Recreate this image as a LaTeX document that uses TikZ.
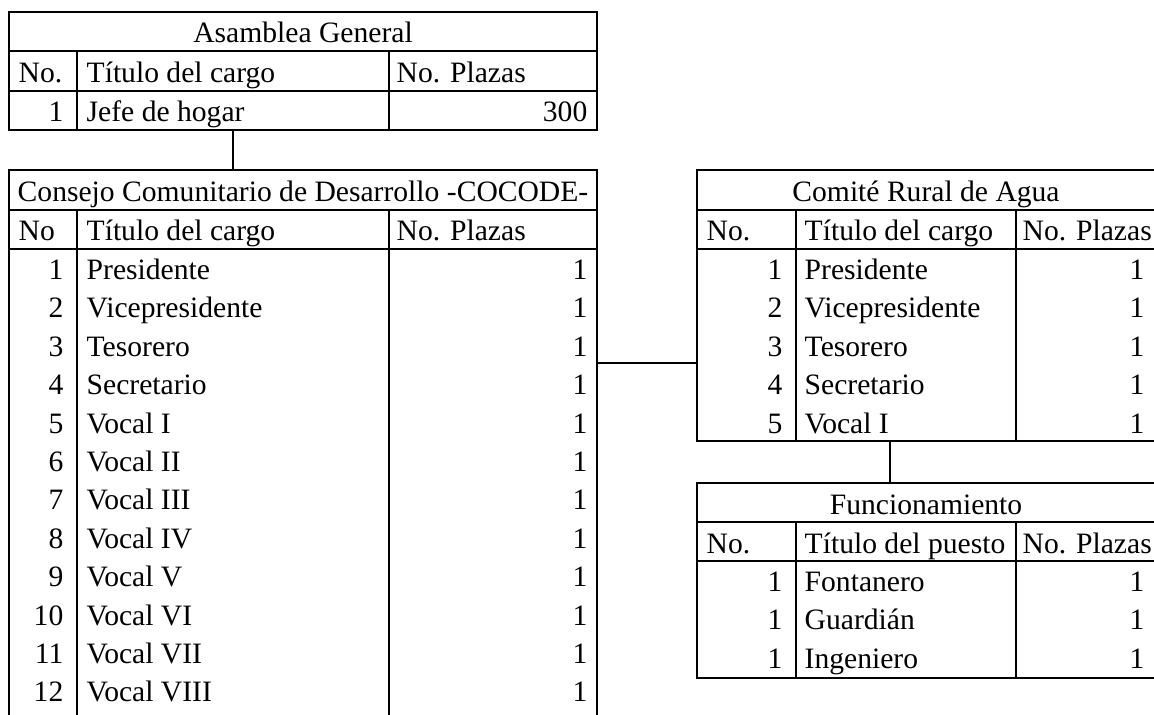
\documentclass[tikz,border=0pt]{standalone}
\usepackage{fontspec}
\setmainfont{Liberation Serif}

\tikzset{
  every node/.style={font=\fontsize{14.8}{17}\selectfont},
  frame/.style={draw, rectangle, inner sep=0pt, outer sep=0pt, anchor=north west},
  txt/.style={inner sep=0pt, anchor=base west},
  num/.style={inner sep=0pt, anchor=base east},
  ttl/.style={inner sep=0pt, anchor=base}
}

\begin{document}
\begin{tikzpicture}[x=0.5pt,y=-0.5pt,line width=0.7pt]
  \useasboundingbox (0,0) rectangle (1154,715);
  \clip (0,0) rectangle (1154,715);

  % Asamblea General
  \node[frame, minimum width=294pt, minimum height=59pt] (asamblea) at (9,12) {};
  \draw (9,51) -- (597,51) (9,91) -- (597,91);
  \draw (77,51) -- (77,130) (389,51) -- (389,130);
  \node[ttl] (ag-title) at (303,43)  {Asamblea General};
  \node[txt] (ag-no)    at (18,83)   {No.};
  \node[txt] (ag-tit)   at (86,83)   {Título del cargo};
  \node[txt] (ag-pl)    at (396,83)  {No. Plazas};
  \node[num] (ag-n1)    at (64,122)  {1};
  \node[txt] (ag-t1)    at (86,122)  {Jefe de hogar};
  \node[num] (ag-p1)    at (588,122) {300};

  % COCODE
  \node[frame, minimum width=294pt, minimum height=300pt] (cocode) at (9,170) {};
  \draw (9,210) -- (597,210) (9,249) -- (597,249);
  \draw (77,210) -- (77,770) (389,210) -- (389,770);
  \node[ttl] (cc-title) at (303,202) {Consejo Comunitario de Desarrollo -COCODE-};
  \node[txt] (cc-no)    at (18,241)  {No};
  \node[txt] (cc-tit)   at (86,241)  {Título del cargo};
  \node[txt] (cc-pl)    at (396,241) {No. Plazas};
  \foreach \t [count=\i] in {Presidente, Vicepresidente, Tesorero, Secretario,
      Vocal I, Vocal II, Vocal III, Vocal IV, Vocal V, Vocal VI, Vocal VII, Vocal VIII} {
    \node[num] (cc-n\i) at (64,241+38.4*\i)  {\i};
    \node[txt] (cc-t\i) at (86,241+38.4*\i)  {\t};
    \node[num] (cc-p\i) at (588,241+38.4*\i) {1};
  }

  % Comite Rural de Agua
  \node[frame, minimum width=229pt, minimum height=135.5pt] (comite) at (697,170) {};
  \draw (697,210) -- (1155,210) (697,249) -- (1155,249);
  \draw (796,210) -- (796,441) (1016,210) -- (1016,441);
  \node[ttl] (cr-title) at (926,202)  {Comité Rural de Agua};
  \node[txt] (cr-no)    at (706,241)  {No.};
  \node[txt] (cr-tit)   at (804,241)  {Título del cargo};
  \node[txt] (cr-pl)    at (1022,241) {No. Plazas};
  \foreach \t [count=\i] in {Presidente, Vicepresidente, Tesorero, Secretario, Vocal I} {
    \node[num] (cr-n\i) at (783,241+38.4*\i)  {\i};
    \node[txt] (cr-t\i) at (804,241+38.4*\i)  {\t};
    \node[num] (cr-p\i) at (1145,241+38.4*\i) {1};
  }

  % Funcionamiento
  \node[frame, minimum width=229pt, minimum height=97.5pt] (func) at (697,483) {};
  \draw (697,522) -- (1155,522) (697,561) -- (1155,561);
  \draw (796,522) -- (796,678) (1016,522) -- (1016,678);
  \node[ttl] (fu-title) at (926,514)  {Funcionamiento};
  \node[txt] (fu-no)    at (706,553)  {No.};
  \node[txt] (fu-tit)   at (804,553)  {Título del puesto};
  \node[txt] (fu-pl)    at (1022,553) {No. Plazas};
  \foreach \t [count=\i] in {Fontanero, Guardián, Ingeniero} {
    \node[num] (fu-n\i) at (783,553+38.4*\i)  {1};
    \node[txt] (fu-t\i) at (804,553+38.4*\i)  {\t};
    \node[num] (fu-p\i) at (1145,553+38.4*\i) {1};
  }

  % connectors
  \draw (asamblea.south -| 233,0) -- (cocode.north -| 233,0);
  \draw (cocode.east |- 0,363) -- (comite.west |- 0,363);
  \draw (comite.south -| 890,0) -- (func.north -| 890,0);
\end{tikzpicture}
\end{document}
